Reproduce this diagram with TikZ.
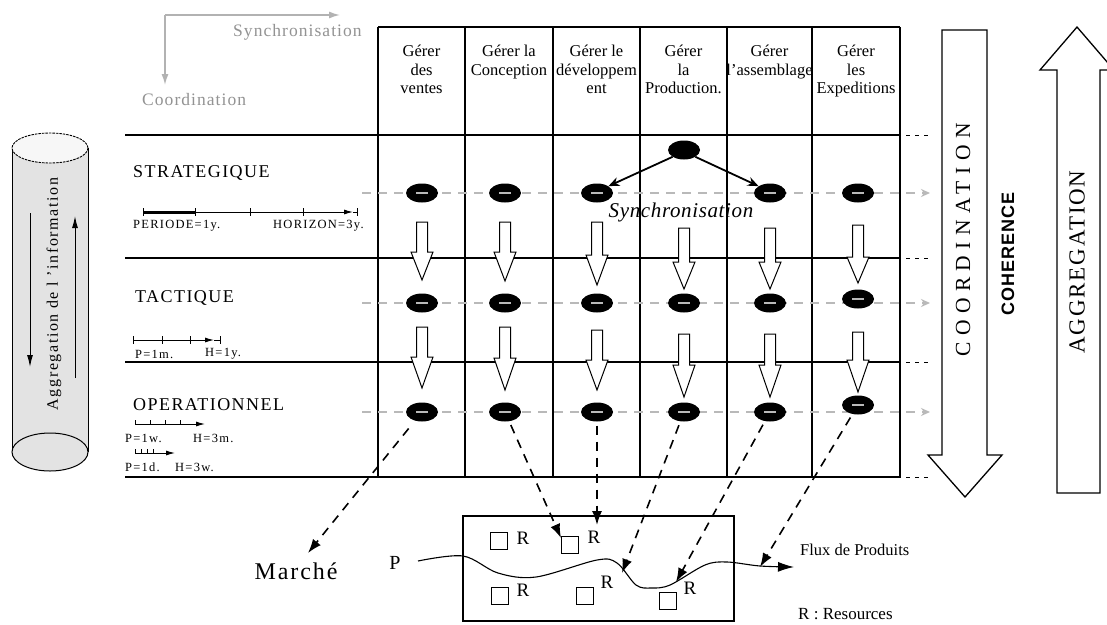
\documentclass[tikz,border=0pt]{standalone}
\usepackage{fontspec}
\setmainfont{Liberation Serif}
\newfontfamily\sansbold{Liberation Sans}
\usetikzlibrary{arrows.meta,shapes.geometric}
\newcommand\lsp[1]{\addfontfeature{LetterSpace=#1}}
\newcommand\fs[1]{\fontsize{#1}{#1}\selectfont}
\newcommand\blob[3]{\node[blob] (#1) at (#2,#3) {};\draw[gray!55,line width=1.6pt] ({#2-6},#3) -- ({#2+6},#3);}
\newcommand\hollow[4]{\draw[line width=1pt,fill=white] ({#1-5.5},#2) -- ({#1+5.5},#2) -- ({#1+5.5},#3) -- ({#1+11},#3) -- (#1,#4) -- ({#1-11},#3) -- ({#1-5.5},#3) -- cycle;}
\begin{document}
\begin{tikzpicture}[x=1pt,y=-1pt,
  tbl/.style={line width=1.2pt},
  gdash/.style={draw=gray!55,line width=1.8pt,dash pattern=on 9pt off 7pt,-{Stealth[length=9pt,width=8pt]}},
  blob/.style={ellipse,fill=black,minimum width=32pt,minimum height=19pt,inner sep=0pt},
  hdr/.style={anchor=north,align=center,inner sep=0pt,font=\fontsize{16.5}{18.5}\selectfont},
  bdash/.style={line width=1.6pt,dash pattern=on 9pt off 7pt,-{Latex[length=14pt,width=10pt]}},
  rowlbl/.style={anchor=west,inner sep=0pt,font=\fs{18}\lsp{8}},
  tlbl/.style={anchor=west,inner sep=0pt,font=\fs{12.5}\lsp{10}},
  sq/.style={draw,line width=1pt,minimum size=17pt,inner sep=0pt},
  rl/.style={inner sep=0pt,font=\fs{19}},
  axis/.style={draw=gray!60,line width=1.5pt,-{Latex[length=11pt,width=7pt]}},
  axtxt/.style={text=gray!85,anchor=west,inner sep=0pt}
]
\useasboundingbox (0,0) rectangle (1107,624);
\fill[white] (0,0) rectangle (1107,624);

% ---- top axes
\coordinate (ax) at (165,15);
\coordinate (axr) at (340,15);
\coordinate (axd) at (165,85);
\draw[axis] (ax) -- (axr);
\draw[axis] (ax) -- (axd);
\node[axtxt,font=\fs{17.5}\lsp{6}] (syn) at (233,32) {Synchronisation};
\node[axtxt,font=\fs{17.5}\lsp{6}] (coo) at (142,100) {Coordination};

% ---- cylinder
\fill[gray!22] (12,148) rectangle (88,452);
\draw[line width=1pt] (12,148) -- (12,452) (88,148) -- (88,452);
\draw[fill=gray!22,line width=1pt] (50,452) ellipse (38 and 19);
\draw[fill=gray!6,line width=0.9pt,dash pattern=on 2.5pt off 1pt] (50,148) ellipse (38 and 15);
\coordinate (ca1) at (30,213);
\coordinate (ca2) at (30,367);
\coordinate (cb1) at (75,378);
\coordinate (cb2) at (75,216);
\draw[line width=1pt,-{Latex[length=12pt,width=6pt]}] (ca1) -- (ca2);
\draw[line width=1pt,-{Latex[length=12pt,width=6pt]}] (cb1) -- (cb2);
\node[rotate=90,inner sep=0pt,font=\fs{16}\lsp{10}] (cyltxt) at (54,294) {Aggregation de l 'information};

% ---- table
\draw[tbl] (378,27) -- (900,27);
\foreach \x in {378,465,553,640,727,812} \draw[tbl] (\x,27) -- (\x,477);
\draw[line width=2.4pt] (900,27) -- (900,478);
\foreach \y in {135,258,362} \draw[tbl] (125,\y) -- (900,\y);
\draw[line width=2pt] (125,477) -- (901,477);
\foreach \y in {135,258,362,477} \draw[line width=1pt,dash pattern=on 4pt off 5pt] (906,\y) -- (932,\y);

% header
\node[hdr] (h1) at (421.5,45) {Gérer\\des\\ventes};
\node[hdr] (h2) at (509,45) {Gérer la\\Conception};
\node[hdr] (h3) at (596.5,45) {Gérer le\\développem\\ent};
\node[hdr] (h4) at (683.5,45) {Gérer\\la\\Production.};
\node[hdr] (h5) at (769.5,45) {Gérer\\l'assemblage};
\node[hdr] (h6) at (856,45) {Gérer\\les\\Expeditions};

% row labels
\node[rowlbl] (ls) at (133,173) {STRATEGIQUE};
\node[rowlbl] (lt) at (135,298) {TACTIQUE};
\node[rowlbl] (lo) at (133,405) {OPERATIONNEL};

% timelines
\draw[line width=1pt,-{Latex[length=9pt,width=5pt]}] (143,212) -- (353,212);
\draw[line width=1pt] (353,212) -- (357,212);
\draw[line width=3pt] (143,212) -- (195,212);
\foreach \x in {143,195,250,303,357} \draw[line width=0.8pt] (\x,208) -- (\x,216);
\node[tlbl] (tp1) at (133,226) {PERIODE=1y.};
\node[tlbl] (th1) at (273,226) {HORIZON=3y.};

\draw[line width=1pt,-{Latex[length=9pt,width=5pt]}] (133,340) -- (214,340);
\draw[line width=1pt] (214,340) -- (220,340);
\foreach \x in {133,162,190,220} \draw[line width=0.8pt] (\x,336) -- (\x,344);
\node[tlbl] (tp2) at (135,354) {P=1m.};
\node[tlbl] (th2) at (205,354) {H=1y.};

\draw[line width=1pt,-{Latex[length=9pt,width=5pt]}] (135,424) -- (205,424);
\foreach \x in {135,150,165,180} \draw[line width=0.8pt] (\x,420) -- (\x,424);
\node[tlbl] (tp3) at (125,438) {P=1w.};
\node[tlbl] (th3) at (193,438) {H=3m.};

\draw[line width=1pt,-{Latex[length=9pt,width=5pt]}] (135,453) -- (175,453);
\foreach \x in {135,141,147,153} \draw[line width=0.8pt] (\x,449) -- (\x,453);
\node[tlbl] (tp4) at (125,467) {P=1d.};
\node[tlbl] (th4) at (175,467) {H=3w.};

% gray dashed rows
\coordinate (g1a) at (362,193); \coordinate (g1b) at (930,193);
\coordinate (g2a) at (362,303); \coordinate (g2b) at (930,303);
\coordinate (g3a) at (362,412); \coordinate (g3b) at (930,412);
\draw[gdash] (g1a) -- (g1b);
\draw[gdash] (g2a) -- (g2b);
\draw[gdash] (g3a) -- (g3b);

% blobs
\blob{s1}{422}{193}\blob{s2}{505}{193}\blob{s3}{597}{193}\blob{s5}{770}{193}\blob{s6}{858}{193}
\blob{t1}{422}{303}\blob{t2}{505}{303}\blob{t3}{597}{303}\blob{t4}{684}{303}\blob{t5}{770}{303}\blob{t6}{858}{299}
\blob{o1}{422}{412}\blob{o2}{505}{412}\blob{o3}{597}{412}\blob{o4}{684}{412}\blob{o5}{770}{412}\blob{o6}{858}{405}
\node[blob] (sy) at (684,150) {};

% hollow arrows
\hollow{422}{222}{252}{280}\hollow{505}{222}{252}{281}\hollow{597}{222}{255}{285}
\hollow{684}{228}{262}{289}\hollow{770}{228}{262}{289}\hollow{858}{225}{257}{283}
\hollow{422}{327}{357}{388}\hollow{505}{327}{358}{390}\hollow{597}{330}{360}{390}
\hollow{684}{334}{365}{397}\hollow{770}{334}{365}{397}\hollow{858}{332}{360}{392}

% synchronisation
\draw[line width=1.8pt,-{Stealth[length=11pt,width=9pt]}] (sy.south west) -- (s3.north east);
\draw[line width=1.8pt,-{Stealth[length=11pt,width=9pt]}] (sy.south east) -- (s5.north west);
\node[inner sep=0pt,font=\itshape\fs{21}\lsp{3}] (synt) at (681,212) {Synchronisation};

% right big arrows
\draw[line width=1.3pt,fill=white] (942,30) -- (987,30) -- (987,455) -- (1002,455) -- (965,497) -- (928,455) -- (942,455) -- cycle;
\draw[line width=1.3pt,fill=white] (1057,493) -- (1100,493) -- (1100,70) -- (1114,70) -- (1077,27) -- (1040,70) -- (1057,70) -- cycle;
\node[rotate=90,inner sep=0pt,font=\fs{21.5}\lsp{30}] (coord) at (963,240) {COORDINATION};
\node[rotate=90,inner sep=0pt,font=\sansbold\bfseries\fs{18}\lsp{6}] (coh) at (1008,254) {COHERENCE};
\node[rotate=90,inner sep=0pt,font=\fs{23}\lsp{8}] (aggr) at (1077,262) {AGGREGATION};

% bottom box
\node[draw,line width=2pt,minimum width=271pt,minimum height=105pt,inner sep=0pt,anchor=north west] (box) at (462,515) {};
\node[sq] (q1) at (499,541) {}; \node[rl] (r1) at (523,538) {R};
\node[sq] (q2) at (570,545) {}; \node[rl] (r2) at (594,537) {R};
\node[sq] (q3) at (500,596) {}; \node[rl] (r3) at (523,590) {R};
\node[sq] (q4) at (585,596) {}; \node[rl] (r4) at (607,582) {R};
\node[sq] (q5) at (668,601) {}; \node[rl] (r5) at (690,588) {R};

\node[inner sep=0pt,font=\fs{20}] (P) at (395,563) {P};
\draw[line width=1.1pt,-{Latex[length=16pt,width=10pt]}] plot[smooth,tension=0.55] coordinates {(418,561) (463,556) (498,573) (536,577) (597,560) (617,563) (636,585) (651,588) (670,585) (705,565) (727,562) (760,566) (794,567)};

\node[inner sep=0pt,font=\fs{24}\lsp{8}] (marche) at (296,571) {Marché};
\node[anchor=west,inner sep=0pt,font=\fs{16.5}] (flux) at (800,550) {Flux de Produits};
\node[anchor=west,inner sep=0pt,font=\fs{17}] (res) at (798,614) {R : Resources};

% dashed connectors
\coordinate (k1) at (308,553);
\coordinate (k2) at (561,538);
\coordinate (k3) at (597,525);
\coordinate (k4) at (622,573);
\coordinate (k5) at (676,582);
\coordinate (k6) at (760,567);
\draw[bdash,shorten <=10pt] (o1) -- (k1);
\draw[bdash,shorten <=4pt] (o2) -- (k2);
\draw[bdash,shorten <=4pt] (o3) -- (k3);
\draw[bdash,shorten <=4pt] (o4) -- (k4);
\draw[bdash,shorten <=4pt] (o5) -- (k5);
\draw[bdash,shorten <=4pt] (o6) -- (k6);
\end{tikzpicture}
\end{document}
